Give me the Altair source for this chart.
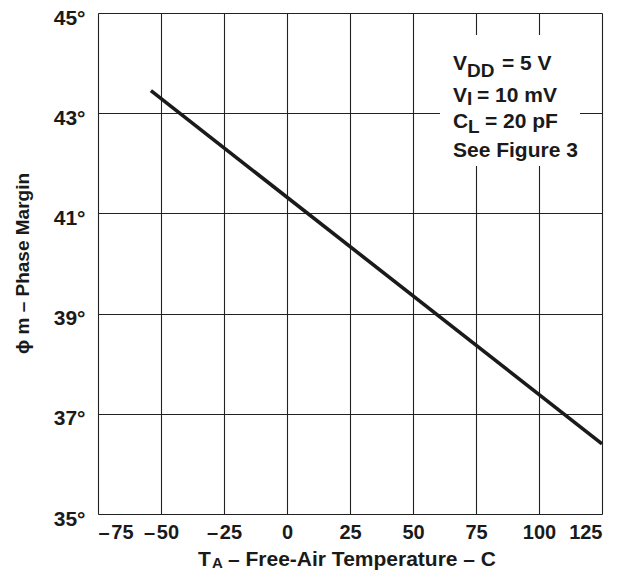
import altair as alt
import pandas as pd

# ---- data ----
temperature = [-54, 125]          # T_A (°C)
phase_margin = [43.45, 36.4]      # phase margin (degrees)
x_ticks = [-75, -50, -25, 0, 25, 50, 75, 100, 125]
y_ticks = [35, 37, 39, 41, 43, 45]

FONT = "Liberation Sans"
INK = "#1a1a1a"
W, H = 504, 501

df = pd.DataFrame({"t": temperature, "pm": phase_margin})
one = pd.DataFrame({"k": [0]})

x_scale = alt.Scale(domain=[-75, 125], nice=False, zero=False)
y_scale = alt.Scale(domain=[35, 45], nice=False, zero=False)

x_axis = alt.Axis(
    values=x_ticks, title=None, grid=True, gridColor="#222222", gridWidth=1.1,
    domain=False, ticks=False, tickSize=0, labelFont=FONT, labelFontSize=20,
    labelFontWeight="bold", labelColor=INK, labelPadding=8,
    labelExpr="datum.value < 0 ? '\u2013\u200a' + abs(datum.value) : datum.value + ''",
)
y_axis = alt.Axis(
    values=y_ticks, title="\u03d5 m \u2013 Phase Margin", grid=True,
    gridColor="#222222", gridWidth=1.1, domain=False, ticks=False, tickSize=0,
    labelFont=FONT, labelFontSize=21, labelFontWeight="bold", labelColor=INK,
    labelPadding=13, labelOffset=5, labelExpr="datum.value + '\u00b0'",
    titleFont=FONT, titleFontSize=19, titleFontWeight="bold", titleColor=INK,
    titleAngle=-90, titleX=-70, titleY=250, titleBaseline="alphabetic",
    titleAlign="center",
)

line = alt.Chart(df).mark_line(color=INK, strokeWidth=3.6).encode(
    x=alt.X("t:Q", scale=x_scale, axis=x_axis),
    y=alt.Y("pm:Q", scale=y_scale, axis=y_axis),
)

# white box behind the conditions note
box = alt.Chart(one).mark_rect(color="white").encode(
    x=alt.value(342), x2=alt.value(482), y=alt.value(22), y2=alt.value(153)
)


def txt(s, x, y, size=21):
    return alt.Chart(one).mark_text(
        text=s, align="left", baseline="alphabetic", font=FONT,
        fontWeight="bold", fontSize=size, color=INK,
    ).encode(x=alt.value(x), y=alt.value(y))


notes = [
    txt("V", 355, 57), txt("DD", 369, 64, 19), txt("= 5 V", 404, 57),
    txt("V", 355, 89), txt("I", 369, 92, 19), txt("= 10 mV", 379, 89),
    txt("C", 355, 115), txt("L", 370, 120, 19), txt("= 20 pF", 387, 115),
    txt("See Figure 3", 355, 144),
]

xtitle = [
    txt("T", 100, 553, 21), txt("A", 114, 555, 15),
    txt("\u2013 Free-Air Temperature \u2013 C", 130, 553, 21),
]

chart = alt.layer(line, box, *notes, *xtitle).properties(
    width=W, height=H,
    autosize=alt.AutoSizeParams(type="none"),
    padding={"left": 90, "top": 5, "right": 19, "bottom": 57},
).configure_view(stroke=INK, strokeWidth=2.6).configure(background="white")

chart.save("out.html", embed_options={"renderer": "svg", "actions": False})
